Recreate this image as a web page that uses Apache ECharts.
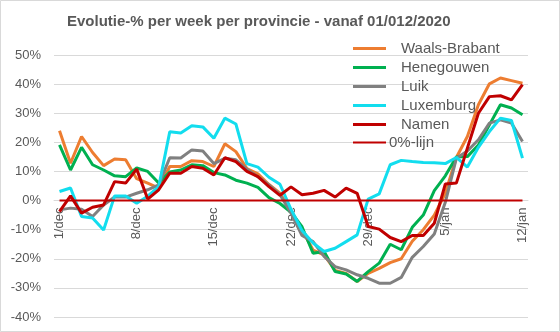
<!DOCTYPE html>
<html>
<head>
<meta charset="utf-8">
<script src="https://cdn.jsdelivr.net/npm/echarts@6/dist/echarts.min.js"></script>
<style>
  html, body { margin: 0; padding: 0; background: #fff; }
  #chart { width: 560px; height: 332px; }
</style>
</head>
<body>
<div id="chart"></div>
<script>
// Daily dates, 1 December 2020 to 12 January 2021
const days = [
  '1/dec','2/dec','3/dec','4/dec','5/dec','6/dec','7/dec','8/dec','9/dec','10/dec',
  '11/dec','12/dec','13/dec','14/dec','15/dec','16/dec','17/dec','18/dec','19/dec','20/dec',
  '21/dec','22/dec','23/dec','24/dec','25/dec','26/dec','27/dec','28/dec','29/dec','30/dec',
  '31/dec','1/jan','2/jan','3/jan','4/jan','5/jan','6/jan','7/jan','8/jan','9/jan',
  '10/jan','11/jan','12/jan'
];

// Week-over-week change (%) per province
const waalsBrabant = [
  24.0, 12.8, 22.0, 16.5, 12.0, 14.3, 14.0, 7.5, 6.0, 4.3,
  11.7, 11.7, 13.7, 13.4, 11.7, 19.5, 16.8, 11.0, 9.2, 5.5,
  2.5, -3.5, -10.0, -17.0, -18.7, -24.0, -25.0, -27.8, -25.0, -23.3,
  -21.3, -20.0, -14.0, -10.0, -5.0, 2.5, 14.8, 22.0, 32.9, 40.1,
  42.1, 41.2, 40.3
];
const henegouwen = [
  19.1, 10.5, 18.3, 12.3, 10.5, 8.5, 8.2, 11.2, 10.0, 6.0,
  9.8, 10.5, 12.3, 12.0, 9.6, 8.8, 7.0, 6.0, 4.5, 1.0,
  -1.0, -4.0, -9.0, -18.1, -17.5, -24.4, -25.2, -27.8, -24.4, -21.5,
  -15.0, -16.9, -9.2, -5.0, 3.4, 8.5, 15.0, 15.1, 19.1, 26.0,
  32.9, 31.8, 29.5
];
const luik = [
  -3.2, -2.6, -3.0, -5.5, -1.5, 1.2, 1.2, 2.5, 3.7, 5.4,
  14.7, 14.6, 17.4, 17.0, 12.7, 14.5, 14.0, 10.8, 8.2, 5.4,
  2.0, -4.3, -12.0, -14.1, -19.2, -22.7, -23.8, -25.5, -26.7, -28.4,
  -28.4, -26.4, -19.5, -15.8, -11.5, -0.6, 14.5, 17.0, 20.9, 26.6,
  27.7, 26.6, 20.3
];
const luxemburg = [
  3.1, 4.3, -5.5, -6.0, -10.1, 1.6, 1.6, -0.9, 1.5, 4.8,
  23.6, 23.2, 25.7, 25.3, 21.4, 28.3, 26.3, 12.7, 11.5, 8.0,
  5.6, -3.0, -10.3, -14.6, -17.5, -16.4, -14.1, -11.8, 0.5, 2.3,
  12.3, 13.8, 13.4, 13.1, 13.0, 12.7, 14.8, 11.5, 18.3, 23.7,
  28.3, 27.5, 14.6
];
const namen = [
  -3.8, 1.6, -4.3, -2.3, -1.5, 6.5, 6.0, 10.8, 0.5, 3.7,
  9.4, 9.4, 11.7, 11.1, 8.8, 14.7, 13.4, 10.0, 8.2, 4.8,
  1.8, 4.7, 2.0, 2.5, 3.5, 1.2, 4.3, 2.5, -8.9, -9.8,
  -12.7, -14.1, -12.0, -12.0, -7.8, 5.7, 6.0, 18.0, 30.0, 35.7,
  36.0, 34.6, 39.8
];
const nulLijn = days.map(() => 0);

// Y-axis range (%)
const yMin = -40;
const yMax = 50;
const yStep = 10;

const provinces = [
  { name: 'Waals-Brabant', data: waalsBrabant, color: '#ED7D31' },
  { name: 'Henegouwen',    data: henegouwen,   color: '#00B050' },
  { name: 'Luik',          data: luik,         color: '#808080' },
  { name: 'Luxemburg',     data: luxemburg,    color: '#12DDEE' },
  { name: 'Namen',         data: namen,        color: '#C00000' }
];

const FONT = '"Liberation Sans", Arial, sans-serif';
const TEXT = '#595959';

const W = 560, H = 332;
const GRID = { left: 54, right: 32, top: 55, bottom: 15 };
// the date axis sits on the 0% line, so shift it up from the bottom of the grid
const plotH = H - GRID.top - GRID.bottom;
const zeroOffset = -plotH * (0 - yMin) / (yMax - yMin);

const series = provinces.map(p => ({
  name: p.name,
  type: 'line',
  data: p.data,
  symbol: 'none',
  color: p.color,
  lineStyle: { width: 3, color: p.color },
  animation: false
}));
series.push({
  name: '0%-lijn',
  type: 'line',
  data: nulLijn,
  symbol: 'none',
  color: '#C00000',
  lineStyle: { width: 2, color: '#C00000' },
  animation: false
});

const chart = echarts.init(document.getElementById('chart'), null, { renderer: 'canvas' });
chart.setOption({
  backgroundColor: '#fff',
  animation: false,
  title: {
    text: 'Evolutie-% per week per provincie - vanaf 01/012/2020',
    left: 67,
    top: 14,
    padding: 0,
    textStyle: { fontFamily: FONT, fontSize: 15, fontWeight: 'bold', color: TEXT }
  },
  legend: [
    {
      data: provinces.map(p => p.name),
      orient: 'vertical',
      left: 353,
      top: 41,
      padding: 0,
      itemWidth: 33,
      itemHeight: 3,
      itemGap: 4,
      icon: 'rect',
      textStyle: { fontFamily: FONT, fontSize: 15, color: TEXT, padding: [0, 0, 0, 10] }
    },
    {
      data: ['0%-lijn'],
      orient: 'vertical',
      left: 353,
      top: 135,
      padding: 0,
      itemWidth: 33,
      itemHeight: 2,
      icon: 'rect',
      textStyle: { fontFamily: FONT, fontSize: 15, color: TEXT, padding: [0, 0, 0, -2] }
    }
  ],
  grid: GRID,
  xAxis: {
    type: 'category',
    data: days,
    boundaryGap: true,
    offset: zeroOffset,
    axisLine: { onZero: false, lineStyle: { color: '#D9D9D9', width: 1 } },
    axisTick: { show: false },
    axisLabel: {
      interval: 6,
      rotate: 90,
      margin: 7,
      fontFamily: FONT,
      fontSize: 13,
      color: TEXT
    },
    splitLine: { show: false }
  },
  yAxis: {
    type: 'value',
    min: yMin,
    max: yMax,
    interval: yStep,
    axisLine: { show: false },
    axisTick: { show: false },
    axisLabel: {
      margin: 13,
      fontFamily: FONT,
      fontSize: 13,
      color: TEXT,
      formatter: v => v + '%'
    },
    splitLine: { lineStyle: { color: '#D9D9D9', width: 1 } }
  },
  graphic: [{
    type: 'rect',
    shape: { x: 0.5, y: 0.5, width: W - 1, height: H - 1 },
    style: { fill: 'none', stroke: '#D9D9D9', lineWidth: 1 },
    silent: true,
    z: 100
  }],
  series: series
});
</script>
</body>
</html>
